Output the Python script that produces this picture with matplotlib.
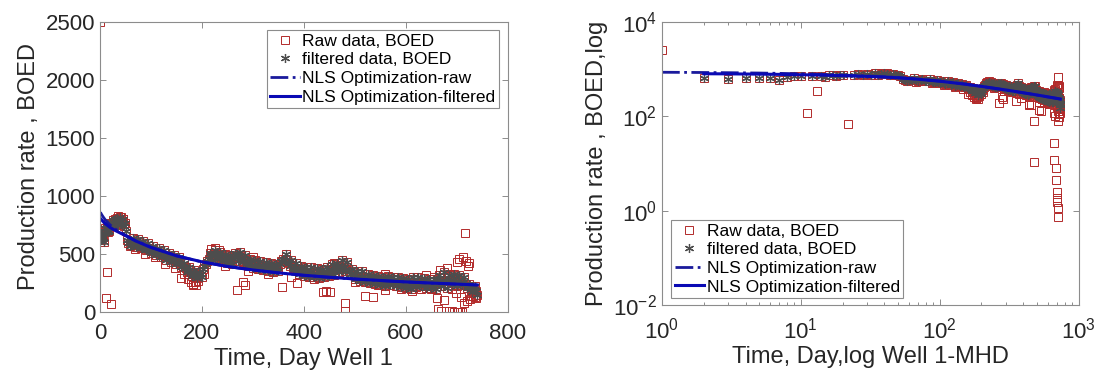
import matplotlib
matplotlib.use("Agg")
import matplotlib.pyplot as plt
from matplotlib.ticker import LogLocator, NullLocator, FixedLocator

plt.rcParams['font.family'] = ['Liberation Sans', 'DejaVu Sans']
plt.rcParams['mathtext.fontset'] = 'custom'
plt.rcParams['mathtext.rm'] = 'Liberation Sans'
plt.rcParams['mathtext.it'] = 'Liberation Sans:italic'
plt.rcParams['mathtext.bf'] = 'Liberation Sans:bold'

# daily samples, days 1-20
days_a = list(range(1, 21))
raw_a = [2500, 650, 620, 640, 660, 650, 600, 680, 700, 720,
         117, 700, 345, 730, 690, 760, 740, 700, 770, 750]
filt_a = [None, 650, 620, 640, 660, 650, 600, 680, 700, 720,
          None, 700, None, 730, 690, 760, 740, 700, 770, 750]

# every 2 days, days 22-60
days_b = list(range(22, 61, 2))
raw_b = [70, 760, 790, 740, 800, 770, 810, 750, 790, 820,
         780, 760, 800, 740, 770, 700, 620, 590, 570, 580]
filt_b = [None, 760, 790, 740, 800, 770, 810, 750, 790, 820,
          780, 760, 800, 740, 770, 700, 620, 590, 570, 580]

# every 5 days, days 65-740 (upper / lower edge of the band, kept by the filter)
days_c = list(range(65, 741, 5))
raw_c = [640, 560, 630, 550, 610, 530, 590, 510, 570, 490,
         550, 470, 530, 450, 510, 430, 490, 410, 470, 390,
         420, 340, 390, 310, 360, 290, 340, 300, 400, 440,
         510, 450, 530, 460, 520, 440, 500, 420, 490, 410,
         510, 440, 520, 430, 490, 400, 460, 380, 450, 370,
         440, 360, 430, 350, 420, 340, 410, 350, 440, 460,
         500, 420, 450, 370, 420, 330, 400, 310, 390, 300,
         390, 300, 380, 290, 370, 300, 390, 310, 410, 320,
         420, 340, 450, 350, 430, 330, 370, 280, 350, 270,
         350, 260, 330, 250, 320, 240, 310, 230, 300, 225,
         310, 230, 300, 220, 300, 215, 290, 210, 280, 200,
         300, 215, 300, 220, 290, 205, 285, 210, 280, 200,
         320, 220, 340, 210, 320, 230, 330, 220, 320, 230,
         300, 210, 240, 170, 220, 150]

# every 5 days, days 63-738 (middle of the band, kept by the filter)
days_d = list(range(63, 739, 5))
raw_d = [590, 600, 580, 570, 560, 550, 545, 540, 525, 520,
         510, 500, 490, 480, 470, 465, 455, 445, 430, 420,
         400, 380, 360, 340, 330, 320, 320, 330, 370, 410,
         460, 490, 500, 490, 480, 470, 455, 445, 440, 450,
         470, 480, 480, 460, 440, 420, 410, 400, 400, 395,
         400, 395, 390, 385, 380, 380, 385, 390, 410, 440,
         450, 430, 400, 380, 370, 360, 350, 345, 340, 340,
         335, 330, 330, 325, 325, 330, 340, 345, 355, 360,
         370, 380, 390, 385, 370, 350, 330, 315, 305, 300,
         300, 295, 290, 285, 280, 275, 270, 265, 262, 260,
         265, 262, 258, 255, 255, 252, 250, 248, 245, 240,
         245, 250, 255, 252, 248, 245, 242, 240, 238, 240,
         260, 270, 275, 270, 265, 270, 275, 270, 265, 260,
         255, 240, 220, 200, 190, 180]

# raw points removed by the filter
days_x = [172, 178, 183, 186, 188, 192, 160, 182, 268, 281, 284, 357, 386,
          438, 443, 451, 480, 481, 520, 535, 560, 611, 612,
          661, 664, 670, 676, 684, 690, 695, 700, 703, 706, 710,
          715, 717, 720, 724, 728, 735, 668, 680, 700, 705, 712, 718, 722,
          690, 698, 708, 726, 732, 738, 35, 42, 45, 218, 226, 234,
          68, 88, 108, 128, 148, 165, 205, 245, 290, 330, 375, 420, 470,
          500, 545, 590, 630, 650, 655, 685, 240, 300, 460, 560, 640]
raw_x = [280, 260, 240, 255, 235, 270, 293, 233, 190, 258, 233, 215, 250,
         172, 180, 172, 78, 11, 137, 130, 190, 195, 180,
         120, 27, 12, 100, 8, 4.5, 2.5, 1.9, 1.5, 1.15, 0.74,
         80, 680, 95, 420, 140, 130, 360, 380, 430, 460, 470, 440, 400,
         200, 160, 130, 110, 140, 120, 830, 820, 800, 540, 550, 530,
         540, 500, 470, 410, 380, 330, 330, 400, 350, 330, 300, 280, 330,
         260, 230, 200, 200, 200, 300, 330, 500, 470, 420, 330, 320]

# NLS fitted decline curves
fit_raw_t = [1, 2, 3, 5, 7, 10, 15, 20, 30, 40, 50, 70, 100, 150, 200, 250,
             300, 350, 400, 450, 500, 550, 600, 650, 700, 740]
fit_raw_q = [860, 850, 842, 828, 815, 797, 772, 750, 715, 688, 662, 614, 558,
             484, 431, 391, 361, 336, 315, 298, 283, 270, 258, 248, 239, 232]
fit_filt_t = [2, 3, 5, 7, 10, 15, 20, 30, 40, 50, 70, 100, 150, 200, 250,
              300, 350, 400, 450, 500, 550, 600, 650, 700, 740]
fit_filt_q = [800, 795, 785, 775, 762, 745, 728, 702, 680, 658, 612, 556,
              484, 432, 392, 362, 337, 316, 299, 284, 271, 259, 249, 240, 233]

raw_t = days_a + days_b + days_c + days_d + days_x
raw_q = raw_a + raw_b + raw_c + raw_d + raw_x
filt_t = [t for t, q in zip(days_a + days_b, filt_a + filt_b) if q is not None] + days_c + days_d
filt_q = [q for q in filt_a + filt_b if q is not None] + raw_c + raw_d

RED = '#b22a2a'
GRAY = '#4d4d4d'
BLUE = '#0a0ab4'
AXC = '#8c8c8c'


def draw_panel(ax):
    h1, = ax.plot(raw_t, raw_q, ls='none', marker='s', ms=6, mfc='none',
                  mec=RED, mew=0.7, label='Raw data, BOED')
    h2, = ax.plot(filt_t, filt_q, ls='none', marker=(6, 2, 0), ms=6.5,
                  color=GRAY, mew=0.9, label='filtered data, BOED')
    h3, = ax.plot(fit_raw_t, fit_raw_q, ls='-.', color='#1a1a9c', lw=2.0,
                  label='NLS Optimization-raw')
    h4, = ax.plot(fit_filt_t, fit_filt_q, ls='-', color=BLUE, lw=2.2,
                  label='NLS Optimization-filtered')
    for s in ax.spines.values():
        s.set_color(AXC)
        s.set_linewidth(0.8)
    ax.tick_params(which='both', direction='in', top=True, right=True,
                   color=AXC, labelcolor='#262626', labelsize=16, width=0.7)
    ax.tick_params(which='major', length=4)
    ax.tick_params(which='minor', length=2.5)
    return [h1, h2, h3, h4]


fig = plt.figure(figsize=(11.02, 3.79), dpi=100)
ax1 = fig.add_axes([0.0907, 0.177, 0.370, 0.765])
ax2 = fig.add_axes([0.6007, 0.195, 0.378, 0.747])

handles = draw_panel(ax1)
ax1.set_xlim(0, 800)
ax1.set_ylim(0, 2500)
ax1.set_xticks([0, 200, 400, 600, 800])
ax1.set_yticks([0, 500, 1000, 1500, 2000, 2500])
ax1.tick_params(axis='x', pad=8)
ax1.set_xlabel('Time, Day Well 1', fontsize=17, color='#262626', labelpad=3)
ax1.set_ylabel('Production rate , BOED', fontsize=17, color='#262626')
leg1 = ax1.legend(handles=handles, loc='upper right', bbox_to_anchor=(0.978, 0.972),
                  borderaxespad=0, fontsize=12.5, fancybox=False, edgecolor=AXC,
                  framealpha=1, handlelength=1.7, handletextpad=0.15,
                  labelspacing=0.2, borderpad=0.2, numpoints=1)
leg1.get_frame().set_linewidth(0.8)

handles2 = draw_panel(ax2)
ax2.set_xscale('log')
ax2.set_yscale('log')
ax2.set_xlim(1, 1000)
ax2.set_ylim(1e-2, 1e4)
ax2.xaxis.set_major_locator(FixedLocator([1, 10, 100, 1000]))
ax2.xaxis.set_minor_locator(LogLocator(base=10, subs=range(2, 10)))
ax2.yaxis.set_major_locator(FixedLocator([1e-2, 1, 1e2, 1e4]))
ax2.yaxis.set_minor_locator(NullLocator())
ax2.tick_params(axis='x', pad=9)
ax2.set_xlabel('Time, Day,log Well 1-MHD', fontsize=17, color='#262626', labelpad=2)
ax2.set_ylabel('Production rate , BOED,log', fontsize=17, color='#262626')
leg2 = ax2.legend(handles=handles2, loc='lower left', bbox_to_anchor=(0.022, 0.025),
                  borderaxespad=0, fontsize=12.5, fancybox=False, edgecolor=AXC,
                  framealpha=1, handlelength=1.7, handletextpad=0.15,
                  labelspacing=0.2, borderpad=0.2, numpoints=1)
leg2.get_frame().set_linewidth(0.8)

fig.savefig('out.png', dpi=100)
